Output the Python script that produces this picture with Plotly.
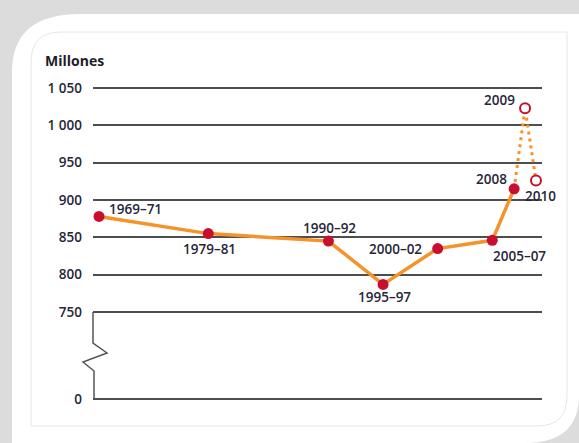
import plotly.graph_objects as go

# ---------------- data ----------------
periods = ["1969–71", "1979–81", "1990–92", "1995–97", "2000–02", "2005–07", "2008"]
period_mid = [1970, 1980, 1991, 1996, 2001, 2006, 2008]
undernourished = [878, 855, 845, 787, 835, 846, 915]

proj_labels = ["2009", "2010"]
proj_years = [2009, 2010]
proj_values = [1023, 926]

tick_values = [0, 750, 800, 850, 900, 950, 1000, 1050]
tick_labels = ["0", "750", "800", "850", "900", "950", "1 000", "1 050"]

# label offsets in pixels (style only)
label_offsets = [(36, 7.5), (1, -15), (1, 13), (1, -13), (-42, 0), (27, -16), (-23, 10)]
proj_offsets = [(-26, 8.5), (5, -15)]

# ---------------- axis break transform ----------------
BREAK = 750
ZERO_POS = 633.5
def disp(v):
    return v if v >= BREAK else BREAK - (BREAK - v) * (BREAK - ZERO_POS) / BREAK

# layout geometry (pixels)
W, H = 579, 443
ML, MR, MT, MB = 93, 37, 86, 41
PW, PH = W - ML - MR, H - MT - MB
def px(x):
    return (x - ML) / PW
def py(y):
    return (H - MB - y) / PH

ORANGE = "#F5922A"
RED = "#C8102E"
TXT = "#262636"
FONT = "Open Sans"
FS = 13.5

fig = go.Figure()

# projected dotted segments 2008 -> 2009 -> 2010
fig.add_trace(go.Scatter(
    x=[period_mid[-1], proj_years[0], proj_years[1]],
    y=[disp(undernourished[-1]), disp(proj_values[0]), disp(proj_values[1])],
    mode="lines",
    line=dict(color=ORANGE, width=3, dash="3px,4px"),
    hoverinfo="skip", showlegend=False, cliponaxis=False,
))

# main series
fig.add_trace(go.Scatter(
    x=period_mid,
    y=[disp(v) for v in undernourished],
    mode="lines+markers",
    line=dict(color=ORANGE, width=3.5),
    marker=dict(color=RED, size=11),
    showlegend=False, cliponaxis=False,
))

# projections (hollow markers)
fig.add_trace(go.Scatter(
    x=proj_years,
    y=[disp(v) for v in proj_values],
    mode="markers",
    marker=dict(color="white", size=10, line=dict(color=RED, width=2)),
    showlegend=False, cliponaxis=False,
))

annotations = [dict(
    text="Millones", xref="paper", yref="paper",
    x=px(43), y=py(60), xanchor="left", yanchor="middle",
    showarrow=False, font=dict(family=FONT, size=14, color="#1e1e2a", weight=700),
)]
for xs, ys, labels, offs in [(period_mid, undernourished, periods, label_offsets),
                             (proj_years, proj_values, proj_labels, proj_offsets)]:
    for xv, yv, lab, (dx, dy) in zip(xs, ys, labels, offs):
        annotations.append(dict(
            x=xv, y=disp(yv), text=lab, showarrow=False,
            xanchor="center", yanchor="middle", xshift=dx, yshift=dy,
            font=dict(family=FONT, size=FS, color=TXT, weight=600),
        ))

shapes = []
# white card
shapes.append(dict(
    type="path", xref="paper", yref="paper", layer="below",
    path=(f"M {px(12)},{py(443)} L {px(12)},{py(72)} Q {px(12)},{py(14)} {px(80)},{py(14)} "
          f"L {px(579)},{py(14)} L {px(579)},{py(395)} Q {px(579)},{py(443)} {px(525)},{py(443)} Z"),
    fillcolor="white", line=dict(width=0),
))
# inner faint border
shapes.append(dict(
    type="path", xref="paper", yref="paper", layer="below",
    path=(f"M {px(31)},{py(426)} L {px(31)},{py(62)} Q {px(31)},{py(32)} {px(61)},{py(32)} "
          f"L {px(567)},{py(32)} L {px(567)},{py(396)} Q {px(567)},{py(426)} {px(537)},{py(426)} Z"),
    fillcolor="rgba(0,0,0,0)", line=dict(color="#e6e6e6", width=1),
))
# y-axis line with break zig-zag
shapes.append(dict(
    type="path", xref="paper", yref="paper",
    path=(f"M {px(93)},{py(312)} L {px(93)},{py(343)} L {px(107)},{py(353)} "
          f"L {px(83)},{py(362)} L {px(94)},{py(371)} L {px(94)},{py(399)}"),
    line=dict(color="#555555", width=1.5),
))

fig.update_layout(
    width=W, height=H,
    margin=dict(l=ML, r=MR, t=MT, b=MB),
    paper_bgcolor="#dcdcdc", plot_bgcolor="rgba(0,0,0,0)",
    shapes=shapes,
    annotations=annotations,
    xaxis=dict(range=[1969.45, 2010.55], visible=False, showgrid=False, zeroline=False),
    yaxis=dict(
        range=[629.5, 1052.7],
        tickvals=[disp(v) for v in tick_values],
        ticktext=tick_labels,
        showgrid=True, gridcolor="#4d4d4d", gridwidth=1.5,
        zeroline=False, showline=False, ticks="",
        ticklabelstandoff=10,
        tickfont=dict(family=FONT, size=FS, color=TXT, weight=600),
    ),
    font=dict(family=FONT),
)

fig.write_html("out.html",
               config={"displayModeBar": False},
               post_script="document.body.style.margin='0';document.body.style.overflow='hidden';")
